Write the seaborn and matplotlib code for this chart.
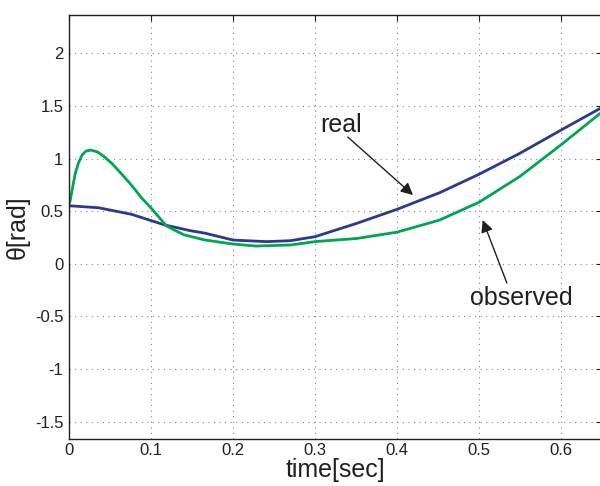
import numpy as np
import pandas as pd
import matplotlib
matplotlib.use('Agg')
import matplotlib.pyplot as plt
import seaborn as sns

# values
t_real = [0, 0.036, 0.076, 0.117, 0.148, 0.166, 0.2, 0.241, 0.27, 0.3,
          0.351, 0.4, 0.452, 0.5, 0.55, 0.6, 0.648]
theta_real = [0.551, 0.532, 0.47, 0.368, 0.314, 0.29, 0.225, 0.21, 0.219, 0.257,
              0.384, 0.517, 0.675, 0.85, 1.05, 1.27, 1.477]

t_obs = [0, 0.0012, 0.0045, 0.0077, 0.0114, 0.0159, 0.0207, 0.0268, 0.035,
         0.043, 0.053, 0.0634, 0.0736, 0.081, 0.088, 0.1, 0.119, 0.14, 0.166,
         0.2, 0.228, 0.27, 0.3, 0.351, 0.4, 0.452, 0.5, 0.55, 0.6, 0.648]
theta_obs = [0.574, 0.59, 0.73, 0.86, 0.954, 1.033, 1.071, 1.08, 1.062,
             1.017, 0.948, 0.859, 0.77, 0.70, 0.63, 0.53, 0.358, 0.275, 0.225,
             0.187, 0.168, 0.178, 0.21, 0.24, 0.30, 0.415, 0.584, 0.83, 1.13, 1.43]

xticks = [0, 0.1, 0.2, 0.3, 0.4, 0.5, 0.6]
xtick_labels = ['0', '0.1', '0.2', '0.3', '0.4', '0.5', '0.6']
yticks = [-1.5, -1, -0.5, 0, 0.5, 1, 1.5, 2]
ytick_labels = ['-1.5', '-1', '-0.5', '0', '0.5', '1', '1.5', '2']

sns.set_style('white')
plt.rcParams['font.family'] = ['Liberation Sans', 'DejaVu Sans']

df_real = pd.DataFrame({'t': t_real, 'theta': theta_real})
df_obs = pd.DataFrame({'t': t_obs, 'theta': theta_obs})

fig = plt.figure(figsize=(6, 4.86), dpi=100)
ax = fig.add_axes([69/600, 47/486, 533/600, 424/486])

sns.lineplot(data=df_real, x='t', y='theta', ax=ax, color='#2B3990', lw=2.0, sort=False)
sns.lineplot(data=df_obs, x='t', y='theta', ax=ax, color='#00A651', lw=2.0, sort=False)

ax.set_xlim(0, 0.65)
ax.set_ylim(-1.666, 2.364)
ax.set_xticks(xticks)
ax.set_xticklabels(xtick_labels)
ax.set_yticks(yticks)
ax.set_yticklabels(ytick_labels)
ax.grid(True, color='#888888', linestyle=(0, (1, 4)), lw=0.8)
ax.tick_params(direction='in', length=4, width=0.8, colors='#231F20',
               labelsize=12, top=True, right=True)
ax.tick_params(axis='y', pad=4)
ax.tick_params(axis='x', pad=3)
for s in ax.spines.values():
    s.set_color('#231F20')
    s.set_linewidth(1.0)

ax.set_xlabel('time[sec]', fontsize=18, color='#231F20', labelpad=0)
ax.set_ylabel('θ[rad]', fontsize=18, color='#231F20', labelpad=4)

# annotations
ax.text(0.3317, 1.318, 'real', fontsize=18, color='#231F20', ha='center', va='center')
ax.annotate('', xy=(0.4195, 0.653), xytext=(0.340, 1.204),
            arrowprops=dict(arrowstyle='-|>', color='#231F20', lw=1.0,
                            mutation_scale=18, shrinkA=0, shrinkB=0))
ax.text(0.551, -0.327, 'observed', fontsize=18, color='#231F20', ha='center', va='center')
ax.annotate('', xy=(0.5045, 0.415), xytext=(0.534, -0.183),
            arrowprops=dict(arrowstyle='-|>', color='#231F20', lw=1.0,
                            mutation_scale=18, shrinkA=0, shrinkB=0))

fig.savefig('out.png', dpi=100)
